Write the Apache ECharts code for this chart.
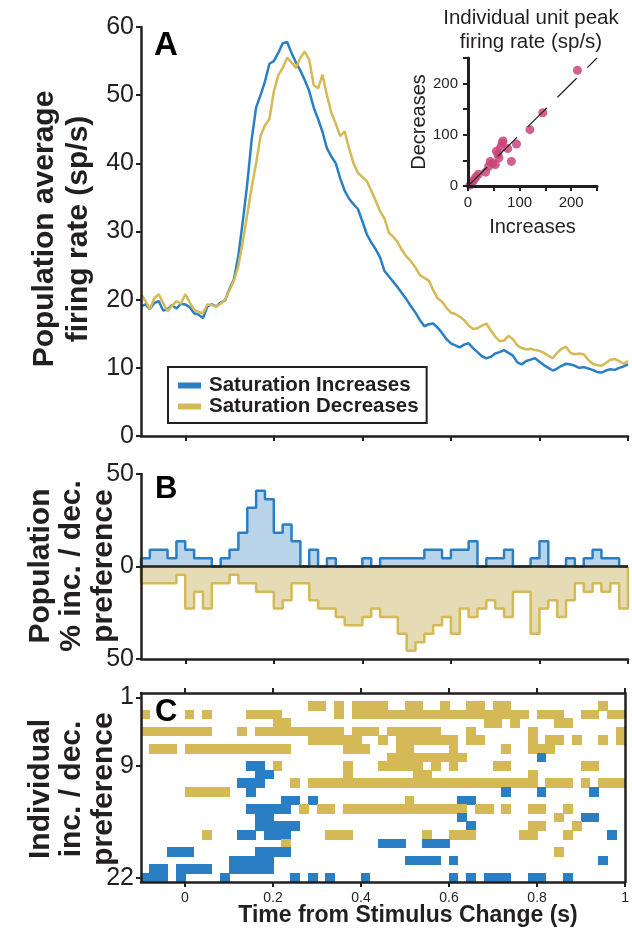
<!DOCTYPE html>
<html>
<head>
<meta charset="utf-8">
<script src="https://cdn.jsdelivr.net/npm/echarts@6/dist/echarts.min.js"></script>
<style>
html, body { margin: 0; padding: 0; background: #fff; }
#chart { width: 632px; height: 935px; }
</style>
</head>
<body>
<div id="chart"></div>
<script>
var fontFam = '"Liberation Sans", Arial, Helvetica, sans-serif';
var ink = '#231f20';
var blue = '#2a7fc4', gold = '#d4b956';
var blueFill = '#b9d4e8', goldFill = '#e5dcb5';

// A: population average firing rate, sampled every 10 ms from -0.1 s
var tStart = -0.1, tStep = 0.01;
var rateInc = [
  19.0,19.3,18.6,19.5,19.8,18.4,18.6,19.2,18.7,19.4,
  19.3,18.9,18.0,17.8,17.3,19.0,19.3,19.0,19.6,19.9,
  21.6,23.0,26.5,31.5,37.0,43.5,48.2,50.0,52.0,54.6,
  55.0,56.2,57.6,57.8,56.2,54.8,53.6,52.2,50.6,48.2,
  46.5,44.6,42.2,41.0,40.0,37.8,36.0,34.8,34.0,33.3,
  31.5,29.6,28.4,27.4,26.2,24.2,23.4,22.6,21.8,20.9,
  20.0,19.0,18.1,17.0,16.1,16.4,16.5,15.9,15.1,14.2,
  13.6,13.3,13.0,13.4,13.6,12.9,12.3,11.7,11.4,11.6,
  12.1,12.3,12.6,12.2,11.8,10.8,10.5,11.0,11.2,11.4,
  10.9,10.4,10.0,9.6,9.9,10.3,10.6,10.5,10.3,10.0,
  10.1,9.9,9.7,9.4,9.3,9.6,9.8,9.7,10.0,10.2,
  10.5
];
var rateDec = [
  20.8,19.8,18.6,20.2,20.8,19.5,18.3,19.1,19.8,19.4,
  20.8,19.6,18.5,18.2,18.0,19.3,19.2,19.0,19.4,20.0,
  21.4,22.8,25.0,28.5,32.5,36.5,40.0,44.0,45.6,46.5,
  50.5,52.9,54.0,55.5,54.8,54.0,55.5,56.4,55.2,51.5,
  51.0,53.0,50.0,47.4,45.8,44.0,44.7,42.2,40.0,38.6,
  38.0,37.4,36.0,34.5,33.0,31.9,29.8,29.2,28.4,27.2,
  26.3,25.6,24.7,23.6,23.2,22.8,21.4,20.2,19.7,18.8,
  18.1,17.9,17.5,17.0,16.2,15.7,15.8,16.2,16.5,15.5,
  14.6,13.9,14.0,14.7,14.2,13.3,12.9,12.7,12.8,12.6,
  12.5,12.2,11.8,11.4,12.2,12.8,13.1,12.2,12.0,12.1,
  12.0,11.2,10.6,10.4,10.3,10.7,11.2,11.3,11.0,10.6,
  11.0
];

// B: % of units preferring increases / decreases, 20 ms bins from -0.1 s
var binStart = -0.1, binWidth = 0.02;
var incPct = [
  4.5,9.1,9.1,4.5,13.6,9.1,4.5,4.5,0,4.5,
  9.1,18.2,31.8,40.9,36.4,18.2,22.7,13.6,0,9.1,
  0,4.5,0,0,0,4.5,0,4.5,4.5,4.5,
  4.5,4.5,9.1,9.1,4.5,9.1,9.1,13.6,0,4.5,
  4.5,9.1,0,0,4.5,13.6,0,0,4.5,0,
  4.5,9.1,4.5,4.5,0
];
var decPct = [
  9.1,9.1,9.1,9.1,4.5,22.7,13.6,22.7,9.1,9.1,
  4.5,9.1,9.1,13.6,13.6,22.7,18.2,9.1,9.1,18.2,
  22.7,22.7,27.3,31.8,31.8,27.3,22.7,27.3,27.3,36.4,
  45.5,40.9,36.4,31.8,27.3,36.4,22.7,27.3,22.7,18.2,
  22.7,27.3,13.6,13.6,36.4,22.7,18.2,27.3,18.2,9.1,
  13.6,9.1,13.6,9.1,22.7
];

// C: per-unit preference, one string per unit, one char per 20 ms bin
// b = increase, y = decrease, . = none
var rasterRows = [
  '..... ..... ..... ..... ..... ..... ..... ..... ..... ..... .....',
  '..... ..... ..... ....y y.y.y yyy.. yy..y ..yy. yy... ..... ..y..',
  'y.... y.y.. ..yyy y.... ..y.y yyyyy yyyyy yyyyy yyyy. yyy.. yy.yy',
  '..... ..... ..... yy... ..... ..... ..... ....y y.y.. ..yy. .....',
  'yyyyy yyy.. .y.yy yyyyy yyy.y yy.yy yyyy. ..y.. ....y ..... ....y',
  '..... ..... ..... ....y yyyyy ..y.y yyyyy y.yy. ....y .yy.y ..y.y',
  '.yyy. yyyyy yyyyy yy... ...yy y...y y.... y.... .y..y yy... .....',
  '..... ..... ..... ..... ..... ...yy yyyyy yy... ..... b.... .....',
  '..... ..... ..bb. y.... ...y. ..yyy yy.y. y.... yy... ..... yy...',
  '..... ..... ...bb ..... ...y. ..... .yy.. ..... ....y ..... .....',
  '..... ..... .bbb. ..y.y yyyyy yyyyy yyyyy yyyyy yyyyy .yyy. y.yyy',
  '..... yyyyy ..b.. ..... ..... ..... ..... ..... .b... b.... .b...',
  '..... ..... ..... .bb.b ..... ..... y.... .bb.. ..... ..... .....',
  '..... ..... ..bbb bb.y. yy.yy yyyyy yyyyy yy.yy .y..y y..y. .....',
  '..... ..... ...bb ..... ..... ..... ..... .b... ..... ..y.. bb...',
  '..... ..... ...bb bbb.. ..... ..... ..... ..b.. ....y y...y .....',
  '..... ..y.. .bb.b bb... .yyy. ..... ..y.. yyy.. ...yy ...y. ...b.',
  '..... ..... ..... .y... ..... ..bbb ..bbb ..... ..... ..... .....',
  '...bb b.... ...bb bb... ..... ..... ..... ..... ..... ..y.. .....',
  '..... ..... bbbbb ..... ..... ..... bbbb. b.... ..... ..... ..b..',
  '.bb.b bbb.. bbbbb ..... ..... ..... ..... ..... ..... ..... .....',
  'bbb.b ....b ..... ..b.b .b... b.... ..... b.b.b bb..b b..b. .....'
];

// inset: individual unit peak firing rate (sp/s)
var peakInc = [212, 145, 120, 94, 84, 68, 66, 77, 63, 55, 58, 60, 43, 53, 48, 40, 34, 20, 15, 11, 7, 4];
var peakDec = [226, 143, 110, 82, 48, 88, 84, 73, 75, 68, 62, 55, 48, 42, 44, 38, 27, 23, 17, 11, 5, 2];

var timeTicks = [0, 0.2, 0.4, 0.6, 0.8, 1];
var unitTicks = [1, 9, 22];

function traceData(vals) {
  return vals.map(function (v, i) { return [+(tStart + i * tStep).toFixed(3), v]; });
}
function stepData(vals, sign) {
  var end = +(binStart + vals.length * binWidth).toFixed(3);
  var d = [[binStart, 0]];
  vals.forEach(function (v, k) { d.push([+(binStart + k * binWidth).toFixed(3), sign * v]); });
  d.push([end, sign * vals[vals.length - 1]]);
  d.push([end, 0]);
  return d;
}
var cells = [];
rasterRows.forEach(function (s, r) {
  var row = s.replace(/ /g, '');
  for (var k = 0; k < row.length; k++) {
    if (row[k] !== '.') cells.push([+(binStart + k * binWidth).toFixed(3), r + 1, row[k] === 'b' ? 0 : 1]);
  }
});
var peaks = peakInc.map(function (x, i) { return [x, peakDec[i]]; });

var lineAx = { show: true, onZero: false, lineStyle: { color: ink, width: 2.5 } };
var tickAx = { show: true, length: 5, lineStyle: { color: ink, width: 2 } };

function timeAxis(grid, pos, labels) {
  return {
    type: 'value', gridIndex: grid, position: pos, min: -0.1, max: 1, z: 10,
    axisLine: lineAx, splitLine: { show: false },
    axisTick: { show: true, length: 5, lineStyle: { color: ink, width: 2 }, customValues: timeTicks },
    axisLabel: labels ? { show: true, customValues: timeTicks, color: ink, fontSize: 14, fontFamily: fontFam, margin: 9 } : { show: false }
  };
}

var dom = document.getElementById('chart');
var myChart = echarts.init(dom, null, { renderer: 'canvas' });

option = {
  animation: false,
  backgroundColor: '#fff',
  textStyle: { fontFamily: fontFam },
  grid: [
    { left: 141, top: 27, width: 487, height: 409 },
    { left: 141, top: 474, width: 487, height: 185 },
    { left: 141, top: 693, width: 487, height: 189 },
    { left: 468, top: 58, width: 129, height: 128 }
  ],
  xAxis: [
    timeAxis(0, 'bottom', false),
    timeAxis(1, 'bottom', false),
    timeAxis(2, 'bottom', true),
    timeAxis(2, 'top', false),
    {
      type: 'value', gridIndex: 3, min: 0, max: 250, interval: 50, z: 10,
      axisLine: { show: true, onZero: false, lineStyle: { color: ink, width: 3 } }, splitLine: { show: false },
      axisTick: tickAx,
      axisLabel: { color: ink, fontSize: 15, fontFamily: fontFam, margin: 9,
        formatter: function (v) { return v % 100 === 0 ? String(v) : ''; } },
      name: 'Increases', nameLocation: 'middle', nameGap: 31,
      nameTextStyle: { color: ink, fontSize: 20, fontFamily: fontFam }
    }
  ],
  yAxis: [
    {
      type: 'value', gridIndex: 0, min: 0, max: 60, interval: 10, z: 10,
      axisLine: lineAx, splitLine: { show: false }, axisTick: tickAx,
      axisLabel: { color: ink, fontSize: 25, fontFamily: fontFam, margin: 7 }
    },
    {
      type: 'value', gridIndex: 1, min: -50, max: 50, z: 10,
      axisLine: lineAx, splitLine: { show: false },
      axisTick: { show: true, length: 5, lineStyle: { color: ink, width: 2 }, customValues: [-50, 0, 50] },
      axisLabel: { customValues: [-50, 0, 50], color: ink, fontSize: 25, fontFamily: fontFam, margin: 7,
        formatter: function (v) { return String(Math.abs(v)); } }
    },
    {
      type: 'value', gridIndex: 2, min: 0.5, max: 22.5, inverse: true, z: 10,
      axisLine: lineAx, splitLine: { show: false },
      axisTick: { show: true, length: 5, lineStyle: { color: ink, width: 2 }, customValues: unitTicks },
      axisLabel: { customValues: unitTicks, color: ink, fontSize: 25, fontFamily: fontFam, margin: 7 }
    },
    {
      type: 'value', gridIndex: 2, position: 'right', min: 0.5, max: 22.5, inverse: true, z: 10,
      axisLine: lineAx, splitLine: { show: false }, axisTick: { show: false }, axisLabel: { show: false }
    },
    {
      type: 'value', gridIndex: 3, min: 0, max: 250, interval: 50, z: 10,
      axisLine: { show: true, onZero: false, lineStyle: { color: ink, width: 3 } }, splitLine: { show: false },
      axisTick: tickAx,
      axisLabel: { color: ink, fontSize: 15, fontFamily: fontFam, margin: 10,
        formatter: function (v) { return v % 100 === 0 ? String(v) : ''; } },
      name: 'Decreases', nameLocation: 'middle', nameGap: 38, nameRotate: 90,
      nameTextStyle: { color: ink, fontSize: 20, fontFamily: fontFam }
    }
  ],
  legend: {
    data: ['Saturation Increases', 'Saturation Decreases'],
    orient: 'vertical', left: 168, top: 367,
    icon: 'rect', itemWidth: 23, itemHeight: 6, itemGap: 0,
    borderColor: ink, borderWidth: 2, borderRadius: 0,
    padding: [8, 8, 6, 10],
    textStyle: { color: ink, fontSize: 20.5, fontWeight: 'bold', fontFamily: fontFam, lineHeight: 19, padding: [0, 0, 0, 3] }
  },
  graphic: [
    { type: 'text', left: 154, top: 29, style: { text: 'A', font: 'bold 33px ' + fontFam, fill: '#000' } },
    { type: 'text', left: 155, top: 474, style: { text: 'B', font: 'bold 31px ' + fontFam, fill: '#000' }, z: 20 },
    { type: 'text', left: 155, top: 697, style: { text: 'C', font: 'bold 31px ' + fontFam, fill: '#000' }, z: 20 },
    { type: 'text', x: 62, y: 229, rotation: Math.PI / 2,
      style: { text: 'Population average\nfiring rate (sp/s)', font: 'bold 30px ' + fontFam, fill: ink,
        textAlign: 'center', textVerticalAlign: 'middle', lineHeight: 34 } },
    { type: 'text', x: 72, y: 566, rotation: Math.PI / 2,
      style: { text: 'Population\n% inc. / dec.\npreference', font: 'bold 30px ' + fontFam, fill: ink,
        textAlign: 'center', textVerticalAlign: 'middle', lineHeight: 31.5 } },
    { type: 'text', x: 72, y: 789, rotation: Math.PI / 2,
      style: { text: 'Individual\ninc. / dec.\npreference', font: 'bold 30px ' + fontFam, fill: ink,
        textAlign: 'center', textVerticalAlign: 'middle', lineHeight: 31.5 } },
    { type: 'text', x: 408, y: 916,
      style: { text: 'Time from Stimulus Change (s)', font: 'bold 23px ' + fontFam, fill: ink,
        textAlign: 'center', textVerticalAlign: 'middle' } },
    { type: 'text', x: 531, y: 30,
      style: { text: 'Individual unit peak\nfiring rate (sp/s)', font: '20.5px ' + fontFam, fill: ink,
        textAlign: 'center', textVerticalAlign: 'middle', lineHeight: 24 } }
  ],
  series: [
    {
      name: 'Saturation Increases', type: 'line', xAxisIndex: 0, yAxisIndex: 0,
      data: traceData(rateInc), showSymbol: false, color: blue,
      lineStyle: { color: blue, width: 2.5 }
    },
    {
      name: 'Saturation Decreases', type: 'line', xAxisIndex: 0, yAxisIndex: 0,
      data: traceData(rateDec), showSymbol: false, color: gold,
      lineStyle: { color: gold, width: 2.5 }
    },
    {
      name: 'incPct', type: 'line', xAxisIndex: 1, yAxisIndex: 1, step: 'end',
      data: stepData(incPct, 1), showSymbol: false,
      lineStyle: { color: blue, width: 2.5 }, areaStyle: { color: blueFill, opacity: 1 }
    },
    {
      name: 'decPct', type: 'line', xAxisIndex: 1, yAxisIndex: 1, step: 'end',
      data: stepData(decPct, -1), showSymbol: false,
      lineStyle: { color: gold, width: 2.5 }, areaStyle: { color: goldFill, opacity: 1 }
    },
    {
      name: 'zero', type: 'line', xAxisIndex: 1, yAxisIndex: 1, z: 5,
      data: [[-0.1, 0], [1, 0]], showSymbol: false, lineStyle: { color: ink, width: 2.5 }
    },
    {
      name: 'units', type: 'custom', xAxisIndex: 2, yAxisIndex: 2,
      encode: { x: 0, y: 1 }, data: cells, clip: true,
      renderItem: function (params, api) {
        var p0 = api.coord([api.value(0), api.value(1) - 0.5]);
        var p1 = api.coord([api.value(0) + binWidth, api.value(1) + 0.5]);
        return {
          type: 'rect',
          shape: { x: Math.floor(p0[0]), y: Math.floor(p0[1]),
            width: Math.ceil(p1[0]) - Math.floor(p0[0]), height: Math.ceil(p1[1]) - Math.floor(p0[1]) },
          style: { fill: api.value(2) ? gold : blue, stroke: null }
        };
      }
    },
    {
      name: 'unity', type: 'line', xAxisIndex: 4, yAxisIndex: 4,
      data: [[0, 0], [250, 250]], showSymbol: false,
      lineStyle: { color: ink, width: 1.2, type: [27, 15] }
    },
    {
      name: 'peaks', type: 'scatter', xAxisIndex: 4, yAxisIndex: 4,
      data: peaks, symbolSize: 9,
      itemStyle: { color: '#c9457a', opacity: 0.85 }
    }
  ]
};

if (option && typeof option === "object") {
  myChart.setOption(option, true);
}
</script>
</body>
</html>
